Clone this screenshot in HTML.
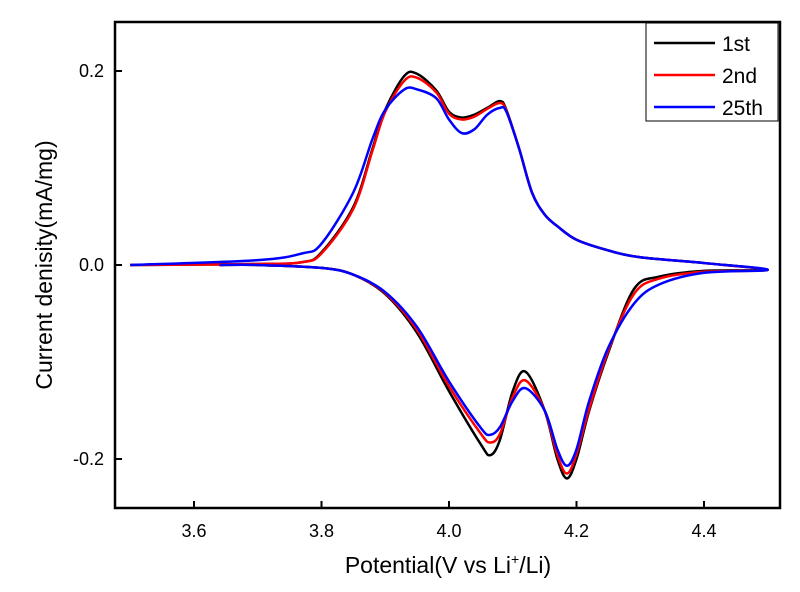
<!DOCTYPE html>
<html><head><meta charset="utf-8"><style>
body{margin:0;background:#fff;}
svg{display:block;font-family:"Liberation Sans",Arial,sans-serif;}
</style></head><body>
<svg id="chart" width="800" height="592" viewBox="0 0 800 592">
<g id="plot"></g>
<rect x="115" y="22" width="665" height="486" fill="none" stroke="#000" stroke-width="2.5"/>
<g id="axes"></g>
<text x="448" y="573" font-size="23" text-anchor="middle">Potential(V vs Li<tspan font-size="14" dy="-9">+</tspan><tspan dy="9">/Li)</tspan></text>
<text transform="translate(52,265) rotate(-90)" font-size="23" text-anchor="middle">Current denisity(mA/mg)</text>
<g>
<rect x="646" y="23" width="132" height="98" fill="#fff" stroke="#000" stroke-width="1"/>
<line x1="654" y1="43" x2="715" y2="43" stroke="#000" stroke-width="2.5"/>
<text x="722" y="51" font-size="21">1st</text>
<line x1="654" y1="75" x2="715" y2="75" stroke="#f00" stroke-width="2.5"/>
<text x="722" y="83" font-size="21">2nd</text>
<line x1="654" y1="107" x2="715" y2="107" stroke="#00f" stroke-width="2.5"/>
<text x="722" y="115" font-size="21">25th</text>
</g>
</svg>
<script>
const xTicks=[3.6,3.8,4.0,4.2,4.4];
const xTickLabels=["3.6","3.8","4.0","4.2","4.4"];
const yTicks=[-0.2,0,0.2];
const yTickLabels=["-0.2","0.0","0.2"];
const potential1=[3.5,3.7,3.77,3.8,3.85,3.88,3.9,3.93,3.95,3.98,4.0,4.02,4.04,4.06,4.08,4.09,4.11,4.13,4.15,4.17,4.2,4.25,4.3,4.4,4.5,4.4,4.33,4.29,4.25,4.22,4.2,4.185,4.17,4.15,4.12,4.1,4.08,4.065,4.05,4.0,3.95,3.9,3.85,3.8,3.7,3.64];
const current1st=[0,0.001,0.003,0.013,0.06,0.12,0.16,0.195,0.197,0.18,0.158,0.152,0.155,0.162,0.169,0.16,0.12,0.075,0.052,0.04,0.026,0.015,0.008,0.002,-0.005,-0.006,-0.012,-0.025,-0.09,-0.15,-0.2,-0.22,-0.2,-0.15,-0.11,-0.13,-0.18,-0.196,-0.185,-0.13,-0.07,-0.03,-0.01,-0.003,0,0];
const current2nd=[0,0.001,0.003,0.012,0.058,0.118,0.158,0.19,0.193,0.178,0.156,0.15,0.153,0.161,0.167,0.159,0.12,0.075,0.052,0.04,0.026,0.015,0.008,0.002,-0.005,-0.007,-0.014,-0.03,-0.088,-0.148,-0.195,-0.215,-0.196,-0.15,-0.119,-0.136,-0.174,-0.183,-0.174,-0.125,-0.067,-0.029,-0.01,-0.003,0,0];
const current25th=[0,0.005,0.012,0.022,0.075,0.13,0.16,0.181,0.181,0.172,0.15,0.136,0.14,0.155,0.162,0.158,0.12,0.075,0.052,0.04,0.026,0.015,0.008,0.002,-0.005,-0.008,-0.02,-0.04,-0.085,-0.14,-0.19,-0.207,-0.19,-0.15,-0.127,-0.14,-0.167,-0.175,-0.168,-0.12,-0.064,-0.028,-0.01,-0.003,0,0];
const NS='http://www.w3.org/2000/svg';
function xs(v){return 449+(v-4)*637.5;}
function ys(c){return 265-c*970;}
const axes=document.getElementById('axes');
xTicks.forEach((t,i)=>{
 const l=document.createElementNS(NS,'line');
 l.setAttribute('x1',xs(t));l.setAttribute('x2',xs(t));l.setAttribute('y1',508);l.setAttribute('y2',501);
 l.setAttribute('stroke','#000');l.setAttribute('stroke-width','2');
 
 
 axes.appendChild(l);
 const tx=document.createElementNS(NS,'text');
 tx.setAttribute('x',xs(t));tx.setAttribute('y',537);tx.setAttribute('font-size','18');tx.setAttribute('text-anchor','middle');
 tx.textContent=xTickLabels[i];
 
 
 axes.appendChild(tx);
});
yTicks.forEach((t,i)=>{
 const l=document.createElementNS(NS,'line');
 l.setAttribute('x1',115);l.setAttribute('x2',122);l.setAttribute('y1',ys(t));l.setAttribute('y2',ys(t));
 l.setAttribute('stroke','#000');l.setAttribute('stroke-width','2');
 
 
 axes.appendChild(l);
 const tx=document.createElementNS(NS,'text');
 tx.setAttribute('x',104);tx.setAttribute('y',ys(t)+6);tx.setAttribute('font-size','18');tx.setAttribute('text-anchor','end');
 tx.textContent=yTickLabels[i];
 
 
 axes.appendChild(tx);
});
function pathFor(vs,cs){
 const p=vs.map((v,i)=>[xs(v),ys(cs[i])]);
 let d='M'+p[0][0]+','+p[0][1];
 for(let i=0;i<p.length-1;i++){
  const p0=p[i-1]||p[i],p1=p[i],p2=p[i+1],p3=p[i+2]||p2;
  const c1=[p1[0]+(p2[0]-p0[0])/6,p1[1]+(p2[1]-p0[1])/6];
  const c2=[p2[0]-(p3[0]-p1[0])/6,p2[1]-(p3[1]-p1[1])/6];
  d+=' C'+c1+' '+c2+' '+p2;
 }
 return d;
}
const plot=document.getElementById('plot');
[[current1st,'#000','series-1st'],[current2nd,'#f00','series-2nd'],[current25th,'#00f','series-25th']].forEach(s=>{
 const p=document.createElementNS(NS,'path');
 p.setAttribute('d',pathFor(potential1,s[0]));
 p.setAttribute('fill','none');p.setAttribute('stroke',s[1]);p.setAttribute('stroke-width','2.5');
 
 
 plot.appendChild(p);
});
</script>
</body></html>
